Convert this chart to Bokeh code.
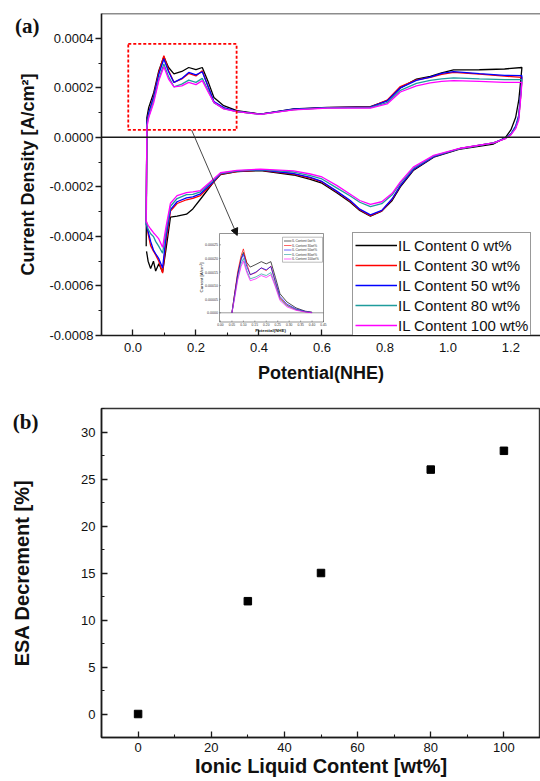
from math import pi

from bokeh.core.properties import value
from bokeh.embed import file_html
from bokeh.layouts import column
from bokeh.models import (Arrow, BoxAnnotation, FixedTicker, Legend,
                          LegendItem, LinearAxis, NormalHead, PrintfTickFormatter,
                          Range1d, Span)
from bokeh.plotting import figure
from bokeh.resources import INLINE

SANS = "Liberation Sans"
SERIF = "Liberation Serif"
INK = "#1a1a1a"

# ---------------------------------------------------------------------------
# (a) cyclic voltammograms, current density in A/cm^2 vs potential (NHE)
# ---------------------------------------------------------------------------
potential_anodic = [0.042, 0.044, 0.050, 0.066, 0.082, 0.098, 0.113, 0.130,
                    0.155, 0.177, 0.200, 0.220, 0.240, 0.257, 0.288, 0.330,
                    0.405, 0.510, 0.617, 0.754, 0.807, 0.849, 0.900, 0.944,
                    0.980, 1.018, 1.100, 1.180, 1.235]
potential_cathodic = [1.232, 1.225, 1.215, 1.200, 1.183, 1.145, 1.040, 0.955,
                      0.890, 0.849, 0.823, 0.790, 0.754, 0.720, 0.690, 0.648,
                      0.600, 0.563, 0.510, 0.405, 0.330, 0.278, 0.256, 0.214,
                      0.190, 0.170, 0.140, 0.119, 0.105, 0.094, 0.082, 0.072,
                      0.065, 0.056, 0.048, 0.043]

j_anodic_il0 = [-4.40e-4, 0.80e-4, 1.21e-4, 1.81e-4, 2.69e-4, 3.25e-4, 2.82e-4, 2.56e-4,
                2.66e-4, 2.82e-4, 2.73e-4, 2.82e-4, 2.20e-4, 1.61e-4, 1.28e-4, 1.08e-4,
                0.94e-4, 1.15e-4, 1.21e-4, 1.24e-4, 1.48e-4, 2.00e-4, 2.35e-4, 2.46e-4,
                2.60e-4, 2.72e-4, 2.73e-4, 2.76e-4, 2.82e-4]
j_anodic_il30 = [-3.40e-4, 0.60e-4, 1.00e-4, 1.68e-4, 2.62e-4, 3.30e-4, 2.70e-4, 2.22e-4,
                 2.36e-4, 2.58e-4, 2.48e-4, 2.69e-4, 2.00e-4, 1.41e-4, 1.18e-4, 1.04e-4,
                 0.94e-4, 1.12e-4, 1.20e-4, 1.22e-4, 1.50e-4, 2.05e-4, 2.32e-4, 2.42e-4,
                 2.54e-4, 2.62e-4, 2.55e-4, 2.47e-4, 2.42e-4]
j_anodic_il50 = [-3.55e-4, 0.60e-4, 1.00e-4, 1.65e-4, 2.55e-4, 3.16e-4, 2.65e-4, 2.22e-4,
                 2.38e-4, 2.62e-4, 2.52e-4, 2.65e-4, 2.00e-4, 1.45e-4, 1.20e-4, 1.05e-4,
                 0.94e-4, 1.14e-4, 1.20e-4, 1.22e-4, 1.47e-4, 2.00e-4, 2.30e-4, 2.43e-4,
                 2.58e-4, 2.65e-4, 2.57e-4, 2.50e-4, 2.49e-4]
j_anodic_il80 = [-3.51e-4, 0.50e-4, 0.85e-4, 1.50e-4, 2.35e-4, 2.96e-4, 2.45e-4, 2.04e-4,
                 2.15e-4, 2.31e-4, 2.22e-4, 2.38e-4, 1.85e-4, 1.40e-4, 1.16e-4, 1.04e-4,
                 0.93e-4, 1.12e-4, 1.19e-4, 1.20e-4, 1.40e-4, 1.90e-4, 2.18e-4, 2.30e-4,
                 2.36e-4, 2.40e-4, 2.36e-4, 2.33e-4, 2.33e-4]
j_anodic_il100 = [-3.43e-4, 0.40e-4, 0.80e-4, 1.41e-4, 2.29e-4, 2.85e-4, 2.35e-4, 2.04e-4,
                  2.08e-4, 2.22e-4, 2.13e-4, 2.29e-4, 1.80e-4, 1.41e-4, 1.15e-4, 1.04e-4,
                  0.93e-4, 1.11e-4, 1.18e-4, 1.18e-4, 1.35e-4, 1.83e-4, 2.08e-4, 2.20e-4,
                  2.26e-4, 2.29e-4, 2.26e-4, 2.22e-4, 2.22e-4]

j_cathodic_il0 = [2.40e-4, 1.50e-4, 0.80e-4, 0.30e-4, 0.00e-4, -0.27e-4, -0.47e-4, -0.80e-4,
                  -1.34e-4, -2.00e-4, -2.55e-4, -2.98e-4, -3.18e-4, -2.95e-4, -2.62e-4, -2.25e-4,
                  -1.85e-4, -1.70e-4, -1.52e-4, -1.34e-4, -1.38e-4, -1.50e-4, -1.81e-4, -2.50e-4,
                  -2.89e-4, -3.10e-4, -3.18e-4, -3.22e-4, -4.50e-4, -5.44e-4, -5.10e-4, -5.40e-4,
                  -5.00e-4, -5.30e-4, -5.00e-4, -4.60e-4]
j_cathodic_il30 = [1.80e-4, 0.80e-4, 0.40e-4, 0.12e-4, -0.04e-4, -0.22e-4, -0.45e-4, -0.78e-4,
                   -1.30e-4, -1.95e-4, -2.50e-4, -2.97e-4, -3.16e-4, -2.92e-4, -2.58e-4, -2.20e-4,
                   -1.80e-4, -1.65e-4, -1.48e-4, -1.32e-4, -1.38e-4, -1.48e-4, -1.81e-4, -2.35e-4,
                   -2.46e-4, -2.52e-4, -2.67e-4, -2.98e-4, -4.20e-4, -5.48e-4, -5.00e-4, -4.75e-4,
                   -4.60e-4, -4.37e-4, -3.90e-4, -3.40e-4]
j_cathodic_il50 = [1.90e-4, 0.90e-4, 0.45e-4, 0.14e-4, -0.03e-4, -0.22e-4, -0.45e-4, -0.78e-4,
                   -1.30e-4, -1.95e-4, -2.48e-4, -2.95e-4, -3.13e-4, -2.90e-4, -2.55e-4, -2.18e-4,
                   -1.78e-4, -1.62e-4, -1.46e-4, -1.31e-4, -1.36e-4, -1.46e-4, -1.78e-4, -2.28e-4,
                   -2.40e-4, -2.44e-4, -2.60e-4, -2.92e-4, -4.00e-4, -5.27e-4, -4.90e-4, -4.70e-4,
                   -4.55e-4, -4.20e-4, -3.80e-4, -3.55e-4]
j_cathodic_il80 = [1.80e-4, 0.80e-4, 0.40e-4, 0.12e-4, -0.04e-4, -0.22e-4, -0.45e-4, -0.75e-4,
                   -1.25e-4, -1.85e-4, -2.32e-4, -2.68e-4, -2.80e-4, -2.62e-4, -2.37e-4, -2.05e-4,
                   -1.68e-4, -1.55e-4, -1.40e-4, -1.30e-4, -1.35e-4, -1.45e-4, -1.72e-4, -2.20e-4,
                   -2.30e-4, -2.31e-4, -2.47e-4, -2.78e-4, -3.80e-4, -4.68e-4, -4.40e-4, -4.20e-4,
                   -4.00e-4, -3.89e-4, -3.70e-4, -3.51e-4]
j_cathodic_il100 = [1.70e-4, 0.70e-4, 0.35e-4, 0.10e-4, -0.05e-4, -0.22e-4, -0.44e-4, -0.73e-4,
                    -1.20e-4, -1.80e-4, -2.26e-4, -2.60e-4, -2.71e-4, -2.55e-4, -2.30e-4, -1.95e-4,
                    -1.60e-4, -1.48e-4, -1.35e-4, -1.28e-4, -1.33e-4, -1.43e-4, -1.68e-4, -2.15e-4,
                    -2.20e-4, -2.23e-4, -2.35e-4, -2.66e-4, -3.60e-4, -4.44e-4, -4.10e-4, -3.95e-4,
                    -3.85e-4, -3.70e-4, -3.55e-4, -3.43e-4]

series_labels = ["IL Content 0 wt%", "IL Content 30 wt%", "IL Content 50 wt%",
                 "IL Content 80 wt%", "IL Content 100 wt%"]
series_colors = ["#000000", "#ff0000", "#0000ff", "#1f9c9c", "#ff00ff"]

cv_x_ticks = [0.0, 0.2, 0.4, 0.6, 0.8, 1.0, 1.2]
cv_x_minor = [-0.1, 0.1, 0.3, 0.5, 0.7, 0.9, 1.1]
cv_y_ticks = [-0.0008, -0.0006, -0.0004, -0.0002, 0.0, 0.0002, 0.0004]
cv_y_minor = [-0.0007, -0.0005, -0.0003, -0.0001, 0.0001, 0.0003]

# inset: baseline-corrected anodic peaks (hydrogen desorption region)
inset_potential = [0.05, 0.06, 0.075, 0.09, 0.10, 0.115, 0.13, 0.155, 0.178,
                   0.20, 0.22, 0.24, 0.26, 0.29, 0.33, 0.37, 0.40]
inset_j_il0 = [0.0, 0.60e-4, 1.40e-4, 2.00e-4, 2.22e-4, 1.85e-4, 1.68e-4, 1.78e-4, 1.88e-4,
               1.80e-4, 1.88e-4, 1.30e-4, 0.70e-4, 0.40e-4, 0.18e-4, 0.06e-4, 0.02e-4]
inset_j_il30 = [0.0, 0.60e-4, 1.50e-4, 2.10e-4, 2.35e-4, 1.80e-4, 1.40e-4, 1.48e-4, 1.65e-4,
                1.55e-4, 1.72e-4, 1.10e-4, 0.55e-4, 0.28e-4, 0.12e-4, 0.04e-4, 0.01e-4]
inset_j_il50 = [0.0, 0.55e-4, 1.40e-4, 1.95e-4, 2.15e-4, 1.70e-4, 1.40e-4, 1.50e-4, 1.65e-4,
                1.58e-4, 1.70e-4, 1.15e-4, 0.60e-4, 0.32e-4, 0.14e-4, 0.05e-4, 0.01e-4]
inset_j_il80 = [0.0, 0.50e-4, 1.25e-4, 1.80e-4, 2.00e-4, 1.55e-4, 1.25e-4, 1.32e-4, 1.43e-4,
                1.37e-4, 1.48e-4, 1.00e-4, 0.50e-4, 0.26e-4, 0.11e-4, 0.04e-4, 0.01e-4]
inset_j_il100 = [0.0, 0.45e-4, 1.20e-4, 1.70e-4, 1.90e-4, 1.48e-4, 1.18e-4, 1.25e-4, 1.37e-4,
                 1.30e-4, 1.40e-4, 0.95e-4, 0.45e-4, 0.22e-4, 0.09e-4, 0.03e-4, 0.0]
inset_x_ticks = [0.00, 0.05, 0.10, 0.15, 0.20, 0.25, 0.30, 0.35, 0.40, 0.45]
inset_x_labels = ["0.00", "0.05", "0.10", "0.15", "0.20", "0.25", "0.30", "0.35", "0.40", "0.45"]
inset_y_ticks = [0.0, 0.00005, 0.00010, 0.00015, 0.00020, 0.00025]
inset_y_labels = ["0.0000", "0.00005", "0.00010", "0.00015", "0.00020", "0.00025"]
inset_legend_labels = ["IL Content 0wt%", "IL Content 30wt%", "IL Content 50wt%",
                       "IL Content 80wt%", "IL Content 100wt%"]

# ---------------------------------------------------------------------------
# (b) ESA decrement vs ionic liquid content
# ---------------------------------------------------------------------------
il_content = [0, 30, 50, 80, 100]
esa_decrement = [0, 12, 15, 26, 28]
esa_x_ticks = [0, 20, 40, 60, 80, 100]
esa_x_minor = [-10, 10, 30, 50, 70, 90, 110]
esa_y_ticks = [0, 5, 10, 15, 20, 25, 30]
esa_y_minor = [-2.5, 2.5, 7.5, 12.5, 17.5, 22.5, 27.5, 32.5]


def style_axis(ax, ticks, minor, fmt, tick_in, tick_out, standoff):
    ax.ticker = FixedTicker(ticks=ticks, minor_ticks=minor)
    if fmt:
        ax.formatter = PrintfTickFormatter(format=fmt)
    ax.axis_line_color = INK
    ax.axis_line_width = 1.6
    ax.major_tick_line_color = INK
    ax.major_tick_line_width = 1.3
    ax.minor_tick_line_color = INK
    ax.minor_tick_line_width = 1.1
    ax.major_tick_in = tick_in
    ax.major_tick_out = tick_out
    ax.minor_tick_in = tick_in // 2
    ax.minor_tick_out = tick_out // 2
    ax.major_label_text_font = SANS
    ax.major_label_text_font_size = "13px"
    ax.major_label_text_color = "#111111"
    ax.major_label_standoff = standoff
    ax.axis_label_text_font = SANS
    ax.axis_label_text_font_style = "bold"
    ax.axis_label_text_color = "#111111"


def panel_tag_axis(text, at, standoff):
    # a bare outer axis whose single tick label is the panel letter
    return LinearAxis(ticker=FixedTicker(ticks=[at], minor_ticks=[]),
                      major_label_overrides={at: text},
                      axis_line_color=None, major_tick_line_color=None,
                      minor_tick_line_color=None, major_tick_in=0, major_tick_out=0,
                      minor_tick_in=0, minor_tick_out=0,
                      major_label_standoff=standoff,
                      major_label_text_font=SERIF, major_label_text_font_style="bold",
                      major_label_text_font_size="21px", major_label_text_color="#111111")


# ---------------------------- panel (a) ------------------------------------
W = 540
HA = 395
A_L, A_R, A_T, A_B = 101, 540, 13, 335
AX0, AX1 = -0.1, 1.294
AY0, AY1 = -0.0008, 0.0005

pa = figure(width=W, height=HA, x_range=Range1d(AX0, AX1), y_range=Range1d(AY0, AY1),
            output_backend="svg", toolbar_location=None,
            min_border_left=A_L, min_border_right=W - A_R,
            min_border_top=A_T, min_border_bottom=HA - A_B)
pa.grid.visible = False
pa.outline_line_color = None

style_axis(pa.xaxis[0], cv_x_ticks, cv_x_minor, "%.1f", 6, 0, 7)
pa.xaxis[0].axis_label = "Potential(NHE)"
pa.xaxis[0].axis_label_text_font_size = "18px"
pa.xaxis[0].axis_label_standoff = 8
style_axis(pa.yaxis[0], cv_y_ticks, cv_y_minor, "%.4f", 0, 6, 2)
pa.yaxis[0].axis_label = "Current Density [A/cm²]"
pa.yaxis[0].axis_label_text_font_size = "18px"
pa.yaxis[0].axis_label_standoff = 8
pa.add_layout(panel_tag_axis("(a)", 0.00045, -24), "left")

pa.add_layout(Span(location=AY1, dimension="width", line_color=INK, line_width=1.6))
pa.add_layout(Span(location=0.0, dimension="width", line_color=INK, line_width=1.5))

anodic = [j_anodic_il0, j_anodic_il30, j_anodic_il50, j_anodic_il80, j_anodic_il100]
cathodic = [j_cathodic_il0, j_cathodic_il30, j_cathodic_il50, j_cathodic_il80, j_cathodic_il100]
cv_renderers = []
for color, ja, jc in zip(series_colors, anodic, cathodic):
    cv_renderers.append(pa.line(potential_anodic + potential_cathodic, ja + jc,
                                line_color=color, line_width=1.3))

# zoom box around the hydrogen region and pointer to the inset
pa.add_layout(BoxAnnotation(left=-0.015, right=0.329, bottom=0.00003, top=0.000377,
                            fill_alpha=0, line_color="#ff0000", line_alpha=1.0,
                            line_width=1.8, line_dash="3 2"))
pa.add_layout(Arrow(x_start=0.186, y_start=0.00003, x_end=0.331, y_end=-0.000396,
                    line_color="#333333", line_width=0.9,
                    end=NormalHead(size=7, fill_color="#111111", line_color="#111111")))

# legend sits on the x axis; its lower edge is hidden under the axis line
legend = Legend(items=[LegendItem(label=lab, renderers=[r])
                       for lab, r in zip(series_labels, cv_renderers)],
                location=(352 - A_L, -3), orientation="vertical",
                label_text_font=SANS, label_text_font_size="15px",
                label_text_color="#111111",
                glyph_width=42, glyph_height=20, label_height=20,
                label_standoff=1, padding=2, spacing=0, margin=0,
                border_line_color="#333333", border_line_width=1.2,
                background_fill_color="white", background_fill_alpha=1.0)
pa.add_layout(legend)

# ---- inset, drawn on its own ranges inside panel (a) ----
IN_L, IN_R = 220.0, 323.0          # inset frame, canvas px
IN_TOP, IN_BOT = 233.0, 321.5
IN_ZERO, IN_Y25 = 312.3, 244.3     # px of 0 and 0.00025
IX0, IX1 = 0.0, 0.45
ux = (IX1 - IX0) / (IN_R - IN_L)
uy = 0.00025 / (IN_ZERO - IN_Y25)
pa.extra_x_ranges = {"ix": Range1d(IX0 - (IN_L - A_L) * ux, IX1 + (A_R - IN_R) * ux)}
pa.extra_y_ranges = {"iy": Range1d(-(A_B - IN_ZERO) * uy, (IN_ZERO - A_T) * uy)}


def ix(px):
    return IX0 + (px - IN_L) * ux


def iy(px):
    return (IN_ZERO - px) * uy


kw = dict(x_range_name="ix", y_range_name="iy")
pa.quad(left=[ix(IN_L - 1)], right=[ix(IN_R)], bottom=[iy(IN_BOT)], top=[iy(IN_TOP)],
        fill_color="white", line_color="#666666", line_width=0.7, **kw)
pa.line([ix(IN_L - 1), ix(IN_R)], [0.0, 0.0], line_color="#555555", line_width=0.6, **kw)
pa.segment(x0=[ix(IN_L - 1)] * len(inset_y_ticks), x1=[ix(IN_L + 0.5)] * len(inset_y_ticks),
           y0=inset_y_ticks, y1=inset_y_ticks, line_color="#555555", line_width=0.5, **kw)
pa.segment(x0=inset_x_ticks, x1=inset_x_ticks,
           y0=[iy(IN_BOT)] * len(inset_x_ticks), y1=[iy(IN_BOT - 1.5)] * len(inset_x_ticks),
           line_color="#555555", line_width=0.5, **kw)
pa.text(x=[ix(IN_L - 2.5)] * len(inset_y_ticks), y=inset_y_ticks, text=inset_y_labels,
        text_font=value(SANS), text_font_size=value("3.6px"), text_color="#333333",
        text_align=value("right"), text_baseline=value("middle"), **kw)
pa.text(x=inset_x_ticks, y=[iy(IN_BOT + 1.2)] * len(inset_x_ticks), text=inset_x_labels,
        text_font=value(SANS), text_font_size=value("3.3px"), text_color="#333333",
        text_align=value("center"), text_baseline=value("top"), **kw)
pa.text(x=[ix(270)], y=[iy(330)], text=["Potential(NHE)"],
        text_font=value(SANS), text_font_style=value("bold"), text_font_size=value("4.4px"),
        text_color="#222222", text_align=value("center"), text_baseline=value("middle"), **kw)
pa.text(x=[ix(201)], y=[iy(277)], text=["Current [A/cm²]"], angle=pi / 2,
        text_font=value(SANS), text_font_size=value("4.4px"),
        text_color="#222222", text_align=value("center"), text_baseline=value("middle"), **kw)

inset_series = [inset_j_il0, inset_j_il30, inset_j_il50, inset_j_il80, inset_j_il100]
for color, js in zip(series_colors, inset_series):
    pa.line(inset_potential, js, line_color=color, line_width=0.7, **kw)

# inset legend
pa.quad(left=[ix(282)], right=[ix(322)], bottom=[iy(261.7)], top=[iy(236.7)],
        fill_color="white", line_color="#777777", line_width=0.5, **kw)
row_y = [iy(240.5 + 4.5 * i) for i in range(len(inset_legend_labels))]
pa.segment(x0=[ix(283.5)] * len(row_y), x1=[ix(291)] * len(row_y), y0=row_y, y1=row_y,
           line_color=series_colors, line_width=0.6, **kw)
pa.text(x=[ix(291.5)] * len(row_y), y=row_y, text=inset_legend_labels,
        text_font=value(SANS), text_font_size=value("3.2px"), text_color="#333333",
        text_align=value("left"), text_baseline=value("middle"), **kw)

# ---------------------------- panel (b) ------------------------------------
HB = 386
B_L, B_R, B_T, B_B = 100, 540, 13, 342      # frame inside this figure
BX0, BX1 = -10, 110
BY0, BY1 = -2.5, 32.5

pb = figure(width=W, height=HB, x_range=Range1d(BX0, BX1), y_range=Range1d(BY0, BY1),
            output_backend="svg", toolbar_location=None,
            min_border_left=B_L, min_border_right=W - B_R,
            min_border_top=B_T, min_border_bottom=HB - B_B)
pb.grid.visible = False
pb.outline_line_color = "#333333"
pb.outline_line_width = 1.4

style_axis(pb.xaxis[0], esa_x_ticks, esa_x_minor, None, 6, 0, 5)
pb.xaxis[0].axis_label = "Ionic Liquid Content [wt%]"
pb.xaxis[0].axis_label_text_font_size = "20px"
pb.xaxis[0].axis_label_standoff = 0
style_axis(pb.yaxis[0], esa_y_ticks, esa_y_minor, None, 6, 0, 6)
pb.yaxis[0].axis_label = "ESA Decrement [%]"
pb.yaxis[0].axis_label_text_font_size = "20px"
pb.yaxis[0].axis_label_standoff = 45
pb.add_layout(panel_tag_axis("(b)", 31.1, -30), "left")

pb.scatter(il_content, esa_decrement, marker="square", size=7.5,
           fill_color="black", line_color="black")

layout = column(pa, pb, spacing=0)
open("out.html", "w").write(file_html(layout, INLINE))
